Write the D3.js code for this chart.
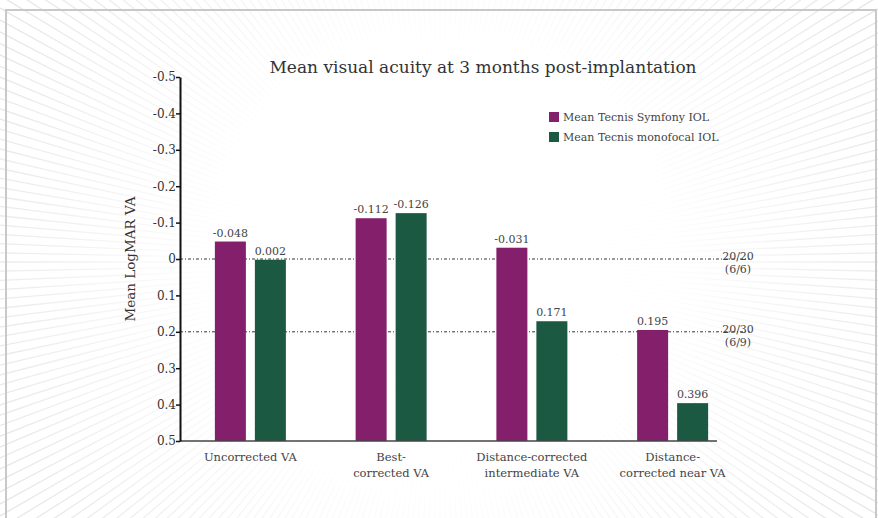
<!DOCTYPE html>
<html><head><meta charset="utf-8">
<script src="https://cdn.jsdelivr.net/npm/d3@7"></script>
<style>html,body{margin:0;padding:0;background:#fff;}svg{display:block;}</style>
</head><body>
<svg id="chart" width="878" height="518"></svg>
<script>
const categories = [["Uncorrected VA"], ["Best-", "corrected VA"], ["Distance-corrected", "intermediate VA"], ["Distance-", "corrected near VA"]];
const seriesNames = ["Mean Tecnis Symfony IOL", "Mean Tecnis monofocal IOL"];
const symfony = [-0.048, -0.112, -0.031, 0.195];
const monofocal = [0.002, -0.126, 0.171, 0.396];
const yTicks = [-0.5, -0.4, -0.3, -0.2, -0.1, 0, 0.1, 0.2, 0.3, 0.4, 0.5];
const refValues = [0, 0.2];
const refLabels = [["20/20", "(6/6)"], ["20/30", "(6/9)"]];
const colors = ["#841f6c", "#1b5942"];

const font = "'DejaVu Serif', 'Liberation Serif', serif";
const svg = d3.select("#chart");
const W = 878, H = 518;

// background sunburst
const cx = 440, cy = 262;
const defs = svg.append("defs");
const grad = defs.append("radialGradient").attr("id", "fade")
  .attr("gradientUnits", "userSpaceOnUse").attr("cx", cx).attr("cy", cy).attr("r", 520);
grad.append("stop").attr("offset", "0%").attr("stop-color", "#fff").attr("stop-opacity", 1);
grad.append("stop").attr("offset", "45%").attr("stop-color", "#fff").attr("stop-opacity", 0.95);
grad.append("stop").attr("offset", "100%").attr("stop-color", "#fff").attr("stop-opacity", 0);
const rays = d3.range(0, 360, 1.2);
svg.append("g").selectAll("line").data(rays).join("line")
  .attr("x1", cx).attr("y1", cy)
  .attr("x2", d => cx + 900 * Math.cos(d * Math.PI / 180))
  .attr("y2", d => cy + 900 * Math.sin(d * Math.PI / 180))
  .attr("stroke", "#e4e4e4").attr("stroke-width", 1.3);
svg.append("rect").attr("x", 0).attr("y", 0).attr("width", W).attr("height", H).attr("fill", "url(#fade)");
// frame
svg.append("rect").attr("x", 6).attr("y", 10).attr("width", 870).attr("height", 540)
  .attr("fill", "none").attr("stroke", "#c8c8c8").attr("stroke-width", 2);

// scales
const x0 = d3.scaleBand().domain(d3.range(categories.length)).range([180, 743]).paddingInner(0).paddingOuter(0);
const groupW = 71;
const x1 = d3.scaleBand().domain([0, 1]).range([0, groupW]).paddingInner(0.225).paddingOuter(0);
const y = d3.scaleLinear().domain([-0.5, 0.5]).range([77, 441]);

// reference lines
const refG = svg.append("g");
refValues.forEach((v, i) => {
  refG.append("line").attr("x1", 180).attr("x2", 750).attr("y1", y(v)).attr("y2", y(v))
    .attr("stroke", "#222").attr("stroke-width", 0.9).attr("stroke-dasharray", "3,2,1,2");
  refLabels[i].forEach((t, j) => {
    refG.append("text").attr("x", 738).attr("y", y(v) + 1 + j * 13)
      .attr("text-anchor", "middle").attr("font-family", font).attr("font-size", 11)
      .attr("fill", "#444").text(t);
  });
});

// bars
const series = [symfony, monofocal];
const barsG = svg.append("g");
series.forEach((vals, s) => {
  vals.forEach((v, i) => {
    const bx = x0(i) + x0.bandwidth() / 2 - groupW / 2 + x1(s);
    barsG.append("rect").attr("x", bx).attr("y", y(v)).attr("width", x1.bandwidth())
      .attr("height", y(0.5) - y(v)).attr("fill", colors[s]);
    barsG.append("text").attr("x", bx + x1.bandwidth() / 2).attr("y", y(v) - 5)
      .attr("text-anchor", "middle").attr("font-family", font).attr("font-size", 11)
      .attr("fill", "#444").text(v.toFixed(3));
  });
});

// x axis
svg.append("line").attr("x1", 180).attr("x2", 717).attr("y1", y(0.5)).attr("y2", y(0.5))
  .attr("stroke", "#444").attr("stroke-width", 1.5);
const xl = svg.append("g");
categories.forEach((lines, i) => {
  lines.forEach((t, j) => {
    xl.append("text").attr("x", x0(i) + x0.bandwidth() / 2).attr("y", y(0.5) + 20 + j * 16)
      .attr("text-anchor", "middle").attr("font-family", font).attr("font-size", 11.5)
      .attr("fill", "#444").text(t);
  });
});

// y axis
const yAxis = d3.axisLeft(y).tickValues(yTicks).tickSize(4).tickSizeOuter(0)
  .tickFormat(d => d === 0 ? "0" : d.toFixed(1));
const ya = svg.append("g").attr("transform", "translate(180,0)").call(yAxis);
ya.select(".domain").attr("stroke", "#111").attr("stroke-width", 2);
ya.selectAll(".tick line").attr("stroke", "#111").attr("stroke-width", 1.5);
ya.selectAll(".tick text").attr("font-family", font).attr("font-size", 12).attr("fill", "#333").attr("x", -4);

svg.append("text").attr("transform", `translate(135,${y(0)}) rotate(-90)`)
  .attr("text-anchor", "middle").attr("font-family", font).attr("font-size", 13.5)
  .attr("fill", "#333").text("Mean LogMAR VA");

// title
svg.append("text").attr("x", 483).attr("y", 73).attr("text-anchor", "middle")
  .attr("font-family", font).attr("font-size", 17).attr("fill", "#333")
  .text("Mean visual acuity at 3 months post-implantation");

// legend
const lg = svg.append("g");
seriesNames.forEach((n, i) => {
  lg.append("rect").attr("x", 549).attr("y", 112 + i * 20).attr("width", 10).attr("height", 10).attr("fill", colors[i]);
  lg.append("text").attr("x", 563).attr("y", 121 + i * 20).attr("font-family", font)
    .attr("font-size", 11).attr("fill", "#444").text(n);
});
</script>
</body></html>
